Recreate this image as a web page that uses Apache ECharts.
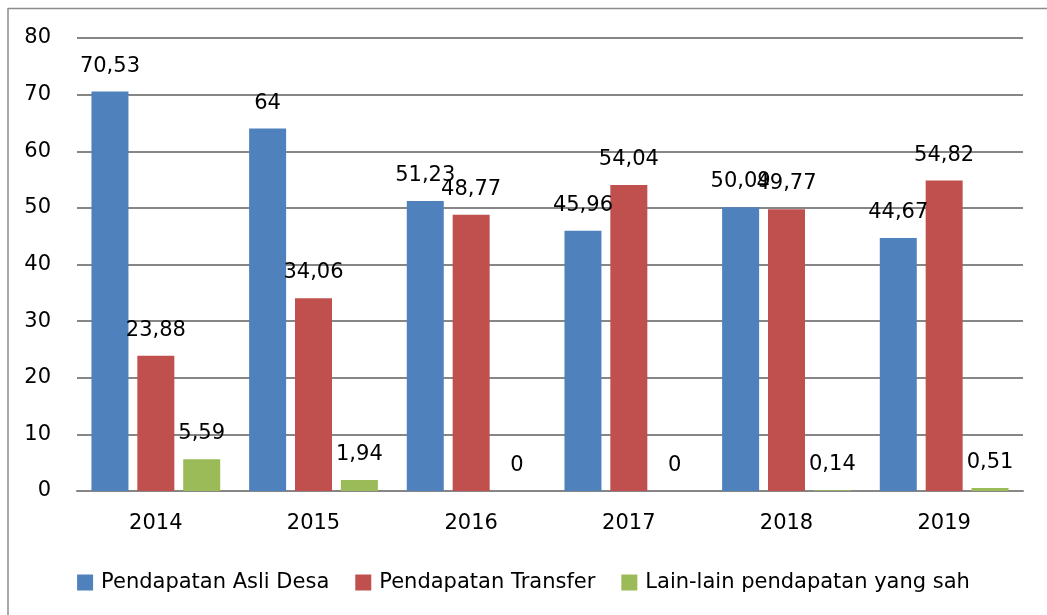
<!DOCTYPE html>
<html>
<head>
<meta charset="utf-8">
<script src="https://cdn.jsdelivr.net/npm/echarts@6/dist/echarts.min.js"></script>
<style>
  html, body { margin: 0; padding: 0; background: #fff; }
  #chart { width: 1047px; height: 615px; }
</style>
</head>
<body>
<div id="chart"></div>
<script>
  // data
  const years = ['2014', '2015', '2016', '2017', '2018', '2019'];
  const asliDesa = [70.53, 64, 51.23, 45.96, 50.09, 44.67];
  const transfer = [23.88, 34.06, 48.77, 54.04, 49.77, 54.82];
  const lainLain = [5.59, 1.94, 0, 0, 0.14, 0.51];
  const seriesNames = ['Pendapatan Asli Desa', 'Pendapatan Transfer', 'Lain-lain pendapatan yang sah'];
  const colors = ['#4f81bd', '#c0504d', '#9bbb59'];

  const font = 'DejaVu Sans';
  const fs = 21;

  function fmt(p) {
    return String(p.value).replace('.', ',');
  }

  function bar(name, data, color) {
    return {
      name: name,
      type: 'bar',
      data: data,
      barWidth: 37,
      barGap: '24%',
      itemStyle: { color: color },
      label: {
        show: true,
        position: 'top',
        distance: 15,
        formatter: fmt,
        color: '#000',
        fontFamily: font,
        fontSize: fs
      }
    };
  }

  let chart = echarts.init(document.getElementById('chart'));
  chart.setOption({
    animation: false,
    color: colors,
    // only the top and left edges of the frame are visible
    graphic: [
      {
        type: 'line',
        shape: { x1: 8, y1: 8.5, x2: 1047, y2: 8.5 },
        style: { stroke: '#8c8c8c', lineWidth: 1.5 },
        silent: true
      },
      {
        type: 'line',
        shape: { x1: 8, y1: 8, x2: 8, y2: 615 },
        style: { stroke: '#8c8c8c', lineWidth: 1.5 },
        silent: true
      }
    ],
    grid: { left: 77, right: 24, top: 38, bottom: 124 },
    legend: {
      bottom: 17,
      left: 'center',
      itemWidth: 16,
      itemHeight: 16,
      itemGap: 26,
      icon: 'rect',
      textStyle: { fontFamily: font, fontSize: fs, color: '#000', padding: [0, 0, 0, 3] },
      data: seriesNames
    },
    xAxis: {
      type: 'category',
      data: years,
      axisLine: { lineStyle: { color: '#868686', width: 2 } },
      axisTick: { show: false },
      axisLabel: { fontFamily: font, fontSize: fs, color: '#000', margin: 22 }
    },
    yAxis: {
      type: 'value',
      min: 0,
      max: 80,
      interval: 10,
      axisLine: { show: false },
      axisTick: { show: false },
      splitLine: { lineStyle: { color: '#868686', width: 2 } },
      axisLabel: { fontFamily: font, fontSize: fs, color: '#000', margin: 26 }
    },
    series: [
      bar(seriesNames[0], asliDesa, colors[0]),
      bar(seriesNames[1], transfer, colors[1]),
      bar(seriesNames[2], lainLain, colors[2])
    ]
  });
</script>
</body>
</html>
